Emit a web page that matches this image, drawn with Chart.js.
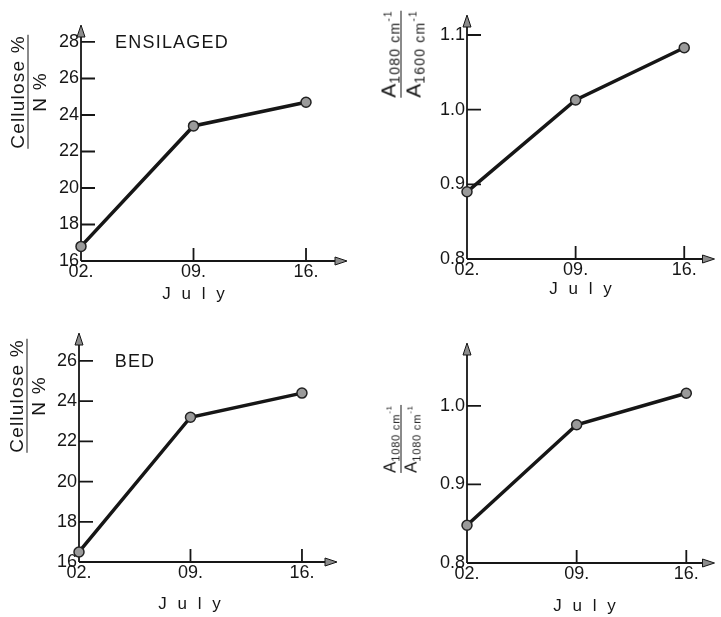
<!DOCTYPE html>
<html>
<head>
<meta charset="utf-8">
<script src="https://cdn.jsdelivr.net/npm/chart.js@4.4.0/dist/chart.umd.min.js"></script>
<style>
    body { margin: 0; background: #fff; width: 721px; height: 617px; position: relative; overflow: hidden;
           font-family: "Liberation Sans", Arial, sans-serif; color: #161616; }
    canvas { position: absolute; }
    .lbl { position: absolute; white-space: nowrap; transform: translate(-50%, -50%); }
    .july { font-size: 17px; letter-spacing: 3px; }
    .ytitle { position: absolute; transform: translate(-50%, -50%) rotate(-90deg);
              display: flex; flex-direction: column; align-items: center; white-space: nowrap; }
    .ytitle .line { align-self: stretch; border-top: 1.5px solid #161616; }
    .cell { font-size: 19px; letter-spacing: 1.2px; line-height: 21px; }
    .abs { line-height: 24px; }
    .abs sub { vertical-align: -4px; line-height: 0; }
    .abs sup { vertical-align: 8px; line-height: 0; }
    .abs.big { font-size: 21px; }
    .abs.big sub { font-size: 14px; letter-spacing: 1.2px; }
    .abs.big sup { font-size: 10px; }
    .abs.small { font-size: 17px; line-height: 20px; }
    .abs.small sub { font-size: 11px; letter-spacing: 0.8px; }
    .abs.small sup { font-size: 8px; }
</style>
</head>
<body>
<canvas id="ensRatio" width="360" height="305" style="left:0;top:0"></canvas>
<canvas id="ensAbs" width="361" height="305" style="left:360px;top:0"></canvas>
<canvas id="bedRatio" width="360" height="312" style="left:0;top:305px"></canvas>
<canvas id="bedAbs" width="361" height="312" style="left:360px;top:305px"></canvas>

<div class="lbl" style="left:172px;top:42px;font-size:18px;letter-spacing:1.2px">ENSILAGED</div>
<div class="lbl" style="left:135px;top:361px;font-size:18px;letter-spacing:1.2px">BED</div>

<div class="lbl july" style="left:195px;top:294px">J u l y</div>
<div class="lbl july" style="left:582px;top:289px">J u l y</div>
<div class="lbl july" style="left:191px;top:604px">J u l y</div>
<div class="lbl july" style="left:586px;top:606px">J u l y</div>

<div class="ytitle" style="left:28px;top:92px">
    <div class="cell">Cellulose %</div><div class="line"></div><div class="cell">N %</div>
</div>
<div class="ytitle" style="left:27px;top:396px">
    <div class="cell">Cellulose %</div><div class="line"></div><div class="cell">N %</div>
</div>
<div class="ytitle" style="left:401px;top:54px">
    <div class="abs big">A<sub>1080 cm<sup>-1</sup></sub></div><div class="line"></div>
    <div class="abs big">A<sub>1600 cm<sup>-1</sup></sub></div>
</div>
<div class="ytitle" style="left:401px;top:439px">
    <div class="abs small">A<sub>1080 cm<sup>-1</sup></sub></div><div class="line"></div>
    <div class="abs small">A<sub>1080 cm<sup>-1</sup></sub></div>
</div>

<script>
// sampling dates in July
const days = [2, 9, 16];
const dayLabels = ['02.', '09.', '16.'];

// ensilaged grass
const ensilagedRatio = [16.8, 23.4, 24.7];
const ensilagedAbs = [0.89, 1.013, 1.083];

// bed
const bedRatio = [16.5, 23.2, 24.4];
const bedAbs = [0.848, 0.976, 1.016];

// tick values
const ratioTicksTop = [16, 18, 20, 22, 24, 26, 28];
const ratioTicksBottom = [16, 18, 20, 22, 24, 26];
const absTicksTop = [0.8, 0.9, 1.0, 1.1];
const absTicksBottom = [0.8, 0.9, 1.0];

const INK = '#161616';
const FONT = '"Liberation Sans", Arial, sans-serif';

// axis lines with arrow heads and inward tick marks
const arrowAxes = {
    id: 'arrowAxes',
    beforeDatasetsDraw(chart) {
        const { ctx, chartArea: a, scales: { x, y } } = chart;
        ctx.save();
        ctx.strokeStyle = INK;
        ctx.lineWidth = 1.8;
        ctx.beginPath();
        ctx.moveTo(a.left, a.bottom);
        ctx.lineTo(a.left, a.top + 10);
        ctx.moveTo(a.left, a.bottom);
        ctx.lineTo(a.right - 10, a.bottom);
        y.ticks.forEach(t => {
            if (t.value === y.min) return;
            const py = y.getPixelForValue(t.value);
            ctx.moveTo(a.left, py);
            ctx.lineTo(a.left + 14, py);
        });
        x.ticks.forEach(t => {
            if (t.value === x.min) return;
            const px = x.getPixelForValue(t.value);
            ctx.moveTo(px, a.bottom);
            ctx.lineTo(px, a.bottom - 13);
        });
        ctx.stroke();

        ctx.fillStyle = '#8c8c8c';
        ctx.lineWidth = 1;
        ctx.beginPath();
        ctx.moveTo(a.left, a.top);
        ctx.lineTo(a.left - 4, a.top + 12);
        ctx.lineTo(a.left + 4, a.top + 12);
        ctx.closePath();
        ctx.fill();
        ctx.stroke();
        ctx.beginPath();
        ctx.moveTo(a.right, a.bottom);
        ctx.lineTo(a.right - 12, a.bottom - 4);
        ctx.lineTo(a.right - 12, a.bottom + 4);
        ctx.closePath();
        ctx.fill();
        ctx.stroke();
        ctx.restore();
    }
};

function makePanel(id, values, yTicks, p) {
    const ctx = document.getElementById(id).getContext('2d');
    return new Chart(ctx, {
        type: 'line',
        data: {
            datasets: [{
                data: days.map((d, i) => ({ x: d, y: values[i] })),
                borderColor: INK,
                borderWidth: 3.5,
                pointRadius: 5,
                pointBackgroundColor: '#9a9a9a',
                pointBorderColor: '#222',
                pointBorderWidth: 1.5,
                tension: 0,
                clip: false
            }]
        },
        options: {
            responsive: false,
            animation: false,
            layout: { padding: { top: p.top, right: p.right, left: 0, bottom: 0 } },
            plugins: { legend: { display: false }, tooltip: { enabled: false } },
            scales: {
                x: {
                    type: 'linear',
                    min: 2,
                    max: p.xMax,
                    grid: { display: false, drawTicks: false },
                    border: { display: false },
                    afterBuildTicks: s => { s.ticks = days.map(v => ({ value: v })); },
                    afterFit: s => { s.height = p.xHeight; },
                    ticks: {
                        padding: 0,
                        color: INK,
                        font: { family: FONT, size: 18 },
                        maxRotation: 0,
                        callback: (v, i) => dayLabels[i]
                    }
                },
                y: {
                    min: p.yMin,
                    max: p.yMax,
                    grid: { display: false, drawTicks: false },
                    border: { display: false },
                    afterBuildTicks: s => { s.ticks = yTicks.map(v => ({ value: v })); },
                    afterFit: s => { s.width = p.left; },
                    ticks: {
                        padding: 2,
                        color: INK,
                        font: { family: FONT, size: 18 },
                        callback: v => v.toFixed(p.dec)
                    }
                }
            }
        },
        plugins: [arrowAxes]
    });
}

makePanel('ensRatio', ensilagedRatio, ratioTicksTop,
    { top: 25, right: 13, left: 81, xHeight: 44, xMax: 18.55, yMin: 16, yMax: 28.93, dec: 0 });
makePanel('ensAbs', ensilagedAbs, absTicksTop,
    { top: 15, right: 1, left: 107, xHeight: 46, xMax: 17.95, yMin: 0.8, yMax: 1.1268, dec: 1 });
makePanel('bedRatio', bedRatio, ratioTicksBottom,
    { top: 28, right: 23, left: 79, xHeight: 55, xMax: 18.2, yMin: 16, yMax: 27.39, dec: 0 });
makePanel('bedAbs', bedAbs, absTicksBottom,
    { top: 38, right: 1, left: 107, xHeight: 54, xMax: 17.8, yMin: 0.8, yMax: 1.08, dec: 1 });
</script>
</body>
</html>
